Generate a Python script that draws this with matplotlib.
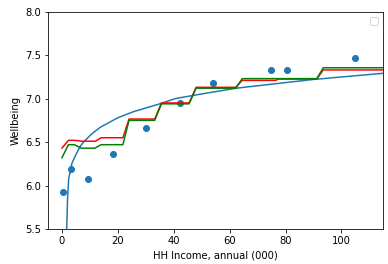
import matplotlib
matplotlib.use("Agg")
import matplotlib.pyplot as plt

# observed household income (000) vs wellbeing
income = [0.5, 3.3, 9.2, 18.1, 30.2, 42.1, 54.1, 74.9, 80.4, 104.9]
wellbeing = [5.92, 6.19, 6.07, 6.36, 6.66, 6.95, 7.18, 7.33, 7.33, 7.47]

# log-shaped fit
fit_x = [1.6, 2.0, 2.4, 3.6, 5.2, 6.5, 7.7, 10.5, 13.7, 20.0, 25.6, 35.0, 40.5, 49.3, 62.4, 89.8, 118.0]
fit_y = [5.40, 5.85, 6.08, 6.26, 6.37, 6.45, 6.50, 6.59, 6.67, 6.78, 6.85, 6.94, 7.00, 7.05, 7.12, 7.22, 7.30]

# two step-like smoothers
red_x = [0, 2.3, 4.5, 7.0, 12.0, 14.0, 21.8, 24.0, 33.2, 35.6, 45.5, 48.0, 62.2, 64.5, 76.5, 77.5, 91.2, 93.5, 118.0]
red_y = [6.43, 6.52, 6.52, 6.51, 6.51, 6.55, 6.55, 6.765, 6.765, 6.95, 6.95, 7.13, 7.13, 7.21, 7.21, 7.225, 7.225, 7.33, 7.33]

green_x = [0, 2.3, 4.4, 7.0, 11.8, 14.0, 21.8, 24.0, 33.2, 35.6, 45.5, 48.0, 62.2, 64.5, 91.2, 93.5, 118.0]
green_y = [6.32, 6.47, 6.47, 6.43, 6.43, 6.47, 6.47, 6.75, 6.75, 6.94, 6.94, 7.12, 7.12, 7.23, 7.23, 7.355, 7.355]

fig = plt.figure(figsize=(388 / 72, 264 / 72), dpi=72)
ax = fig.add_axes([48 / 388, 1 - 229 / 264, (383.3 - 48) / 388, (229 - 11.7) / 264])

ax.scatter(income, wellbeing)
ax.plot(fit_x, fit_y)
ax.plot(red_x, red_y, color='red')
ax.plot(green_x, green_y, color='green')

ax.set_xlim(-5, 115)
ax.set_ylim(5.5, 8.0)
ax.set_xlabel("HH Income, annual (000)")
ax.set_ylabel("Wellbeing")
ax.legend()

fig.savefig("out.png", dpi=72)
